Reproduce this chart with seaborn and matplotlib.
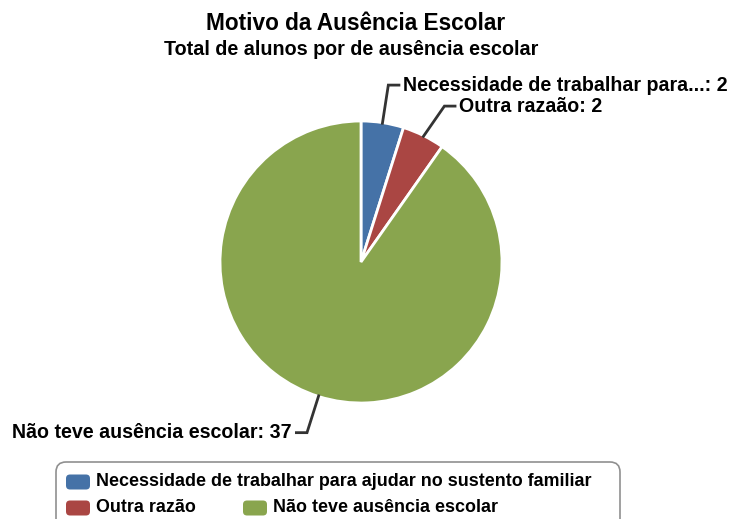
import matplotlib
matplotlib.use("Agg")
import matplotlib.pyplot as plt
import seaborn as sns
import numpy as np
from matplotlib.patches import FancyBboxPatch

# data
categories = ["Necessidade de trabalhar para ajudar no sustento familiar",
              "Outra razão",
              "Não teve ausência escolar"]
slice_labels = ["Necessidade de trabalhar para...", "Outra razaão", "Não teve ausência escolar"]
counts = [2, 2, 37]
colors = ["#4572A7", "#AA4643", "#89A54E"]

sns.set_theme(style="white")
plt.rcParams["font.family"] = ["Liberation Sans", "DejaVu Sans"]
plt.rcParams["font.weight"] = "bold"

W, H = 732, 519
fig = plt.figure(figsize=(W / 100, H / 100), dpi=100)
ax = fig.add_axes([0, 0, 1, 1])

cx, cy, r = 361, H - 262, 141
wedges, _ = ax.pie(counts, colors=colors, startangle=90, counterclock=False,
                   center=(cx, cy), radius=r,
                   wedgeprops=dict(edgecolor="white", linewidth=2))
ax.set_xlim(0, W)
ax.set_ylim(0, H)
ax.set_aspect("equal")
ax.axis("off")

# data labels with connectors (push labels apart when they'd collide)
min_gap = 21
last_y = {1: None, -1: None}
for w, name, val in zip(wedges, slice_labels, counts):
    mid = np.deg2rad((w.theta1 + w.theta2) / 2)
    x0, y0 = cx + (r - 2) * np.cos(mid), cy + (r - 2) * np.sin(mid)
    x1, y1 = cx + (r + 38) * np.cos(mid), cy + (r + 38) * np.sin(mid)
    side = 1 if np.cos(mid) > 0 else -1
    if last_y[side] is not None and last_y[side] - y1 < min_gap:
        y1 = last_y[side] - min_gap
        x1 = x1 + side * 4
    last_y[side] = y1
    x2 = x1 + side * 12
    ax.plot([x0, x1, x2], [y0, y1, y1], color="#333333", lw=2, solid_capstyle="butt",
            solid_joinstyle="miter")
    ax.text(x2 + side * 3, y1, f"{name}: {val}", ha="left" if side > 0 else "right",
            va="center", fontsize=14.1, fontweight="bold", color="black")

# titles
fig.text(356 / W, 1 - 30 / H, "Motivo da Ausência Escolar", ha="center", va="baseline",
         fontsize=16.3, fontweight="bold", color="black")
fig.text(351 / W, 1 - 55 / H, "Total de alunos por de ausência escolar", ha="center",
         va="baseline", fontsize=14.2, fontweight="bold", color="black")

# legend box (flow layout like the original)
box = FancyBboxPatch((56, H - 545), 564, 83, boxstyle="round,pad=0,rounding_size=10",
                     facecolor="white", edgecolor="#909090", lw=1.2)
ax.add_patch(box)
legend_pos = [(66, 482), (66, 508), (243, 508)]
for (lx, ly), cat, col in zip(legend_pos, categories, colors):
    ax.add_patch(FancyBboxPatch((lx, H - ly - 7.5), 24, 15, boxstyle="round,pad=0,rounding_size=4",
                                facecolor=col, edgecolor="none"))
    ax.text(lx + 30, H - ly, cat, ha="left", va="center", fontsize=12.9,
            fontweight="bold", color="black")

fig.savefig("out.png", dpi=100)
